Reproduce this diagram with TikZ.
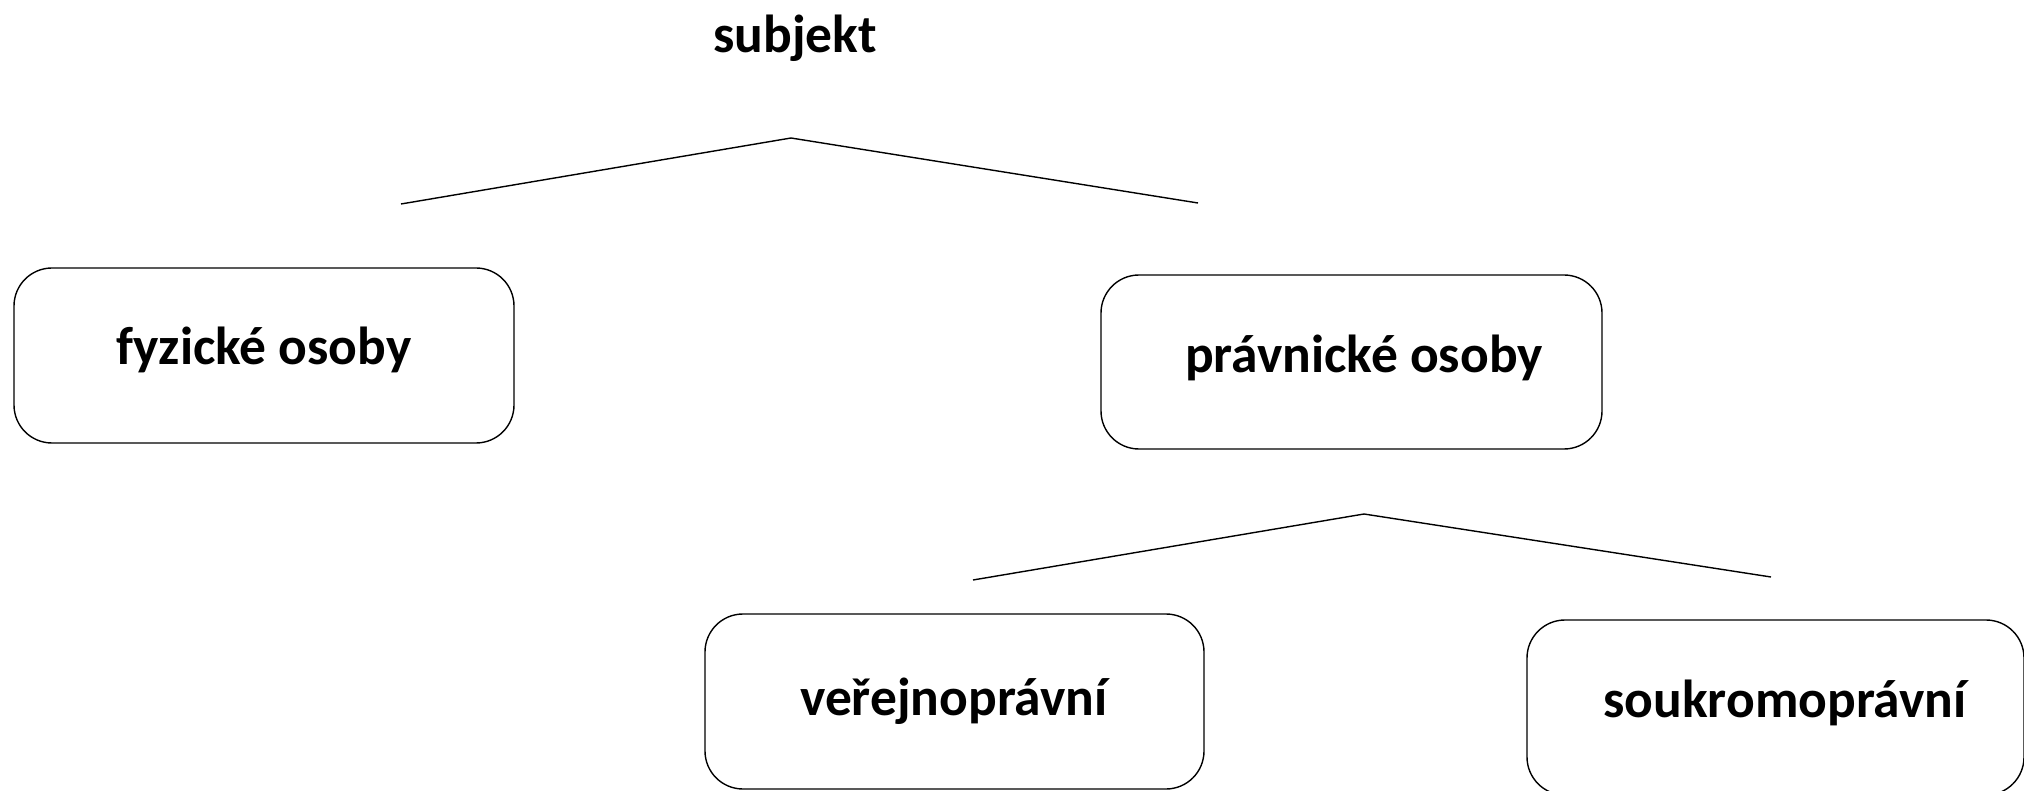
\documentclass[tikz,border=0pt]{standalone}
\usepackage{fontspec}
\setmainfont{Carlito}
\begin{document}
\begin{tikzpicture}[x=1pt,y=-1pt,
  box/.style={draw=black,line width=1.4pt,rounded corners=38pt,inner sep=0pt},
  lbl/.style={font=\bfseries\fontsize{53.5}{64}\selectfont,inner sep=0pt},
  branch/.style={draw=black,line width=1.4pt}]
\useasboundingbox (0,0) rectangle (2024,791);
\node[lbl] (subj) at (795,38) {subjekt};
\coordinate (a1) at (791,138);
\coordinate (l1) at (401,204);
\coordinate (r1) at (1198,203);
\draw[branch] (l1) -- (a1) -- (r1);
\node[box,minimum width=500pt,minimum height=175pt] (fyz) at (264,355.5) {};
\node[lbl] (fyzt) at (264,350) {fyzické osoby};
\node[box,minimum width=501pt,minimum height=174pt] (prav) at (1351.5,362) {};
\node[lbl] (pravt) at (1364,358) {právnické osoby};
\coordinate (a2) at (1364,514);
\coordinate (l2) at (973,580);
\coordinate (r2) at (1771,577);
\draw[branch] (l2) -- (a2) -- (r2);
\node[box,minimum width=499pt,minimum height=175pt] (ver) at (954.5,701.5) {};
\node[lbl] (vert) at (954,701) {veřejnoprávní};
\node[box,minimum width=497pt,minimum height=175pt] (souk) at (1775.5,707.5) {};
\node[lbl] (soukt) at (1785,703) {soukromoprávní};
\end{tikzpicture}
\end{document}
